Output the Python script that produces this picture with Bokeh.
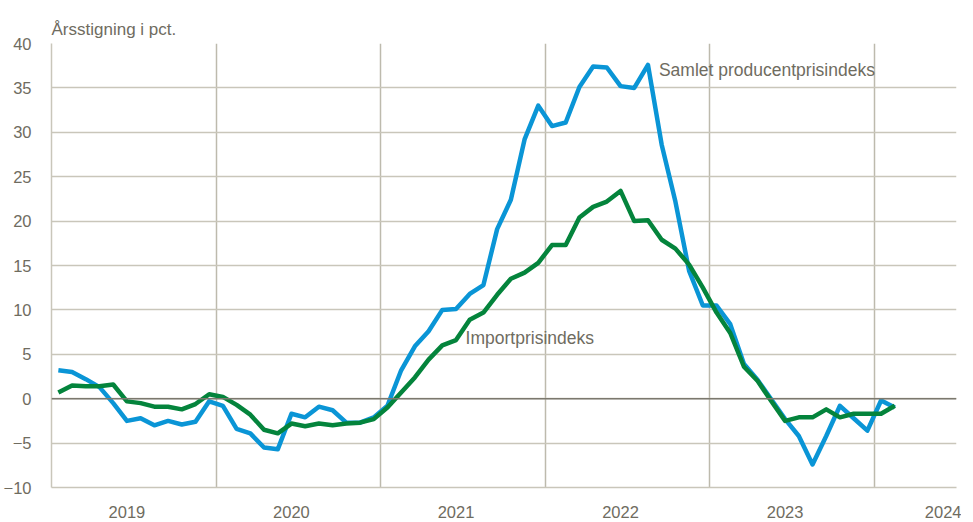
from bokeh.plotting import figure
from bokeh.models import FixedTicker, Span, Label
from bokeh.embed import file_html
from bokeh.resources import INLINE

# Monthly data, Jan 2019 .. Feb 2024 (index 0 = Jan 2019)
start_year = 2019
producer = [3.2, 3.0, 2.2, 1.3, -0.5, -2.5, -2.2, -3.0, -2.5, -2.9, -2.6, -0.3,
            -0.8, -3.4, -3.9, -5.5, -5.7, -1.7, -2.1, -0.9, -1.3, -2.7, -2.7, -2.1,
            -0.8, 3.2, 5.9, 7.6, 10.0, 10.1, 11.8, 12.8, 19.1, 22.4, 29.2, 33.0,
            30.7, 31.1, 35.1, 37.4, 37.3, 35.2, 35.0, 37.6, 28.6, 22.2, 14.4, 10.5,
            10.5, 8.4, 3.9, 2.1, -0.1, -2.3, -4.2, -7.4, -4.2, -0.8, -2.2, -3.6,
            -0.2, -1.0]
imports = [0.7, 1.5, 1.4, 1.4, 1.6, -0.3, -0.5, -0.9, -0.9, -1.2, -0.6, 0.5,
           0.2, -0.7, -1.8, -3.5, -3.9, -2.8, -3.1, -2.8, -3.0, -2.8, -2.7, -2.3,
           -1.0, 0.7, 2.4, 4.4, 6.0, 6.6, 8.9, 9.7, 11.7, 13.5, 14.2, 15.3,
           17.3, 17.3, 20.4, 21.6, 22.2, 23.4, 20.0, 20.1, 17.9, 16.9, 15.1, 12.5,
           9.7, 7.4, 3.6, 2.0, -0.3, -2.5, -2.1, -2.1, -1.2, -2.1, -1.7, -1.7,
           -1.7, -0.8]
years = [2019, 2020, 2021, 2022, 2023, 2024]
y_ticks = [-10, -5, 0, 5, 10, 15, 20, 25, 30, 35, 40]

months = list(range(len(producer)))
label_ticks = [(y - start_year) * 12 + 5 for y in years]
boundary_ticks = [(y - start_year) * 12 - 0.5 for y in years[1:]]
label_overrides = {t: str(y) for t, y in zip(label_ticks, years)}

FONT = "Liberation Sans"
TXT = "#6f6c5f"
GRID = "#c9c6ba"

p = figure(frame_width=905, frame_height=444,
           x_range=(-0.5, 65.5), y_range=(-10, 40),
           output_backend="svg", toolbar_location=None,
           min_border_left=47, min_border_right=5,
           min_border_top=43, min_border_bottom=26)
p.outline_line_color = None
p.background_fill_color = "white"

p.title.text = "Årsstigning i pct."
p.title.align = "left"
p.title.text_font = FONT
p.title.text_font_size = "17px"
p.title.text_font_style = "normal"
p.title.text_color = TXT
p.title.standoff = 10

p.yaxis.ticker = FixedTicker(ticks=y_ticks)
p.yaxis.major_tick_line_color = None
p.yaxis.minor_tick_line_color = None
p.yaxis.axis_line_color = GRID
p.yaxis.axis_line_width = 1.5
p.yaxis.major_label_text_font = FONT
p.yaxis.major_label_text_font_size = "16.5px"
p.yaxis.major_label_text_color = TXT
p.yaxis.major_label_standoff = 14

p.xaxis.ticker = FixedTicker(ticks=label_ticks)
p.xaxis.major_label_overrides = label_overrides
p.xaxis.major_tick_line_color = None
p.xaxis.minor_tick_line_color = None
p.xaxis.axis_line_color = GRID
p.xaxis.axis_line_width = 1.5
p.xaxis.major_label_text_font = FONT
p.xaxis.major_label_text_font_size = "16.5px"
p.xaxis.major_label_text_color = TXT
p.xaxis.major_label_standoff = 12

p.ygrid.ticker = FixedTicker(ticks=y_ticks)
p.ygrid.grid_line_color = GRID
p.ygrid.grid_line_width = 1.5
p.xgrid.ticker = FixedTicker(ticks=boundary_ticks)
p.xgrid.grid_line_color = "#bdbaad"
p.xgrid.grid_line_width = 1.5

p.add_layout(Span(location=0, dimension="width", line_color="#7b786e", line_width=1.5))

p.line(months, producer, line_color="#0a95d6", line_width=4.5, line_join="round")
p.line(months, imports, line_color="#04843c", line_width=4.5, line_join="round")

p.add_layout(Label(x=43.8, y=37.0, text="Samlet producentprisindeks",
                   text_baseline="middle", text_font=FONT, text_font_size="17.5px",
                   text_color=TXT))
p.add_layout(Label(x=29.7, y=6.8, text="Importprisindeks",
                   text_baseline="middle", text_font=FONT, text_font_size="17.5px",
                   text_color=TXT))

open("out.html", "w").write(file_html(p, INLINE))
